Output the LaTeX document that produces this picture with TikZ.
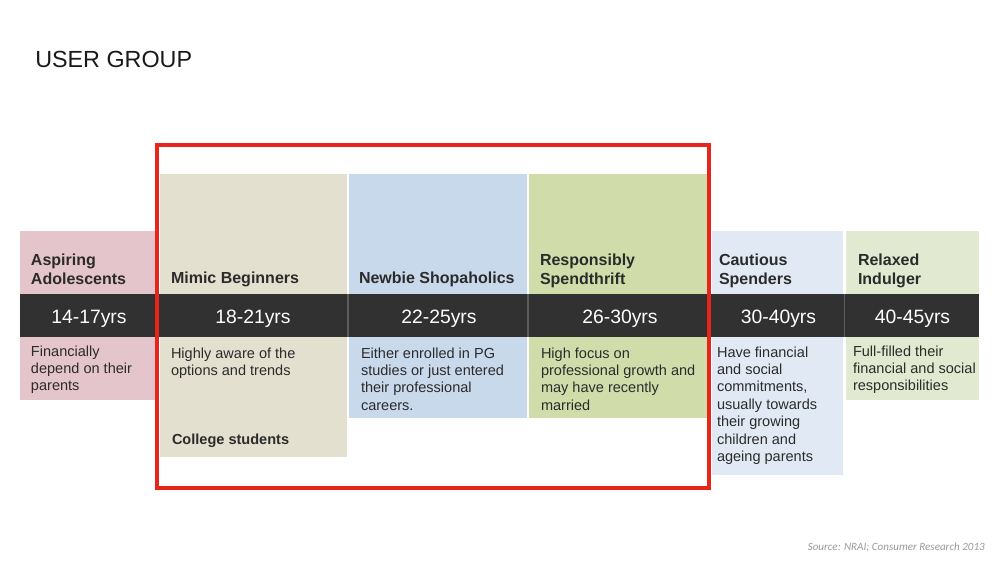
\documentclass[tikz,border=0pt]{standalone}
\usepackage{fontspec}
\setmainfont{Liberation Sans}
\newfontfamily\srcfont{Carlito}
\definecolor{pinkc}{HTML}{E3C5CB}
\definecolor{beigec}{HTML}{E3E0CF}
\definecolor{bluec}{HTML}{C9D9EC}
\definecolor{greenc}{HTML}{D0DDAB}
\definecolor{lbluec}{HTML}{E1EAF4}
\definecolor{lgreenc}{HTML}{E1EAD0}
\definecolor{barc}{HTML}{313131}
\definecolor{sepc}{HTML}{5C5C5C}
\definecolor{redc}{HTML}{E8251B}
\definecolor{txtc}{HTML}{2B2B2B}
\definecolor{srcc}{HTML}{9A9A9A}
\begin{document}
\begin{tikzpicture}[x=0.75pt,y=-0.75pt,
  head/.style={anchor=north west,inner sep=0,outer sep=0,font=\fontsize{12}{14.25}\selectfont\bfseries,text=txtc,align=left},
  headone/.style={anchor=base west,inner sep=0,outer sep=0,font=\fontsize{12}{14.25}\selectfont\bfseries,text=txtc},
  age/.style={anchor=base,inner sep=0,outer sep=0,font=\fontsize{14.5}{17}\selectfont,text=white},
  body/.style={anchor=north west,inner sep=0,outer sep=0,font=\fontsize{10.9}{13.1}\selectfont,text=txtc,align=left},
  bodybold/.style={anchor=base west,inner sep=0,outer sep=0,font=\fontsize{10.9}{13.1}\selectfont\bfseries,text=txtc},
  sep/.style={draw=sepc,line width=1.2pt}]
\useasboundingbox[fill=white] (0,0) rectangle (1000,563);

% title
\node[anchor=base west,inner sep=0,font=\fontsize{17.5}{20}\selectfont,text=black!90] (title) at (35,68) {USER GROUP};

% column backgrounds
\fill[pinkc]   (20,231)  rectangle (155,400);
\fill[beigec]  (160,174) rectangle (347,457);
\fill[bluec]   (349,174) rectangle (527,418);
\fill[greenc]  (529,174) rectangle (707,418);
\fill[lbluec]  (712,231) rectangle (843,475);
\fill[lgreenc] (846,231) rectangle (979,400);

% age bar
\fill[barc] (20,294) rectangle (979,337);
\draw[sep] (157.5,294) -- (157.5,337);
\draw[sep] (348,294) -- (348,337);
\draw[sep] (528,294) -- (528,337);
\draw[sep] (709.5,294) -- (709.5,337);
\draw[sep] (844.5,294) -- (844.5,337);

% headings
\node[head] (h1) at (31,253.5) {Aspiring\\Adolescents};
\node[headone] (h2) at (171,283) {Mimic Beginners};
\node[headone] (h3) at (359,283) {Newbie Shopaholics};
\node[head] (h4) at (540,253.5) {Responsibly\\Spendthrift};
\node[head] (h5) at (719,253.5) {Cautious\\Spenders};
\node[head] (h6) at (858,253.5) {Relaxed\\Indulger};

% ages
\node[age] (a1) at (89,323) {14-17yrs};
\node[age] (a2) at (253,323) {18-21yrs};
\node[age] (a3) at (439,323) {22-25yrs};
\node[age] (a4) at (620,323) {26-30yrs};
\node[age] (a5) at (778.5,323) {30-40yrs};
\node[age] (a6) at (912.5,323) {40-45yrs};

% bodies
\node[body] (b1) at (31,345.5) {Financially\\depend on their\\parents};
\node[body] (b2) at (171,347.5) {Highly aware of the\\options and trends};
\node[bodybold] (b2b) at (172,444) {College students};
\node[body] (b3) at (361,347.5) {Either enrolled in PG\\studies or just entered\\their professional\\careers.};
\node[body] (b4) at (541,347.5) {High focus on\\professional growth and\\may have recently\\married};
\node[body] (b5) at (717,346.5) {Have financial\\and social\\commitments,\\usually towards\\their growing\\children and\\ageing parents};
\node[body] (b6) at (853,345.5) {Full-filled their\\financial and social\\responsibilities};

% highlight frame
\draw[redc,line width=3pt] (157,145) rectangle (709,488);

% source
\node[anchor=base east,inner sep=0,font=\srcfont\itshape\fontsize{8.3}{10}\selectfont,text=srcc] (src) at (985,550) {Source: NRAI; Consumer Research 2013};
\end{tikzpicture}
\end{document}
